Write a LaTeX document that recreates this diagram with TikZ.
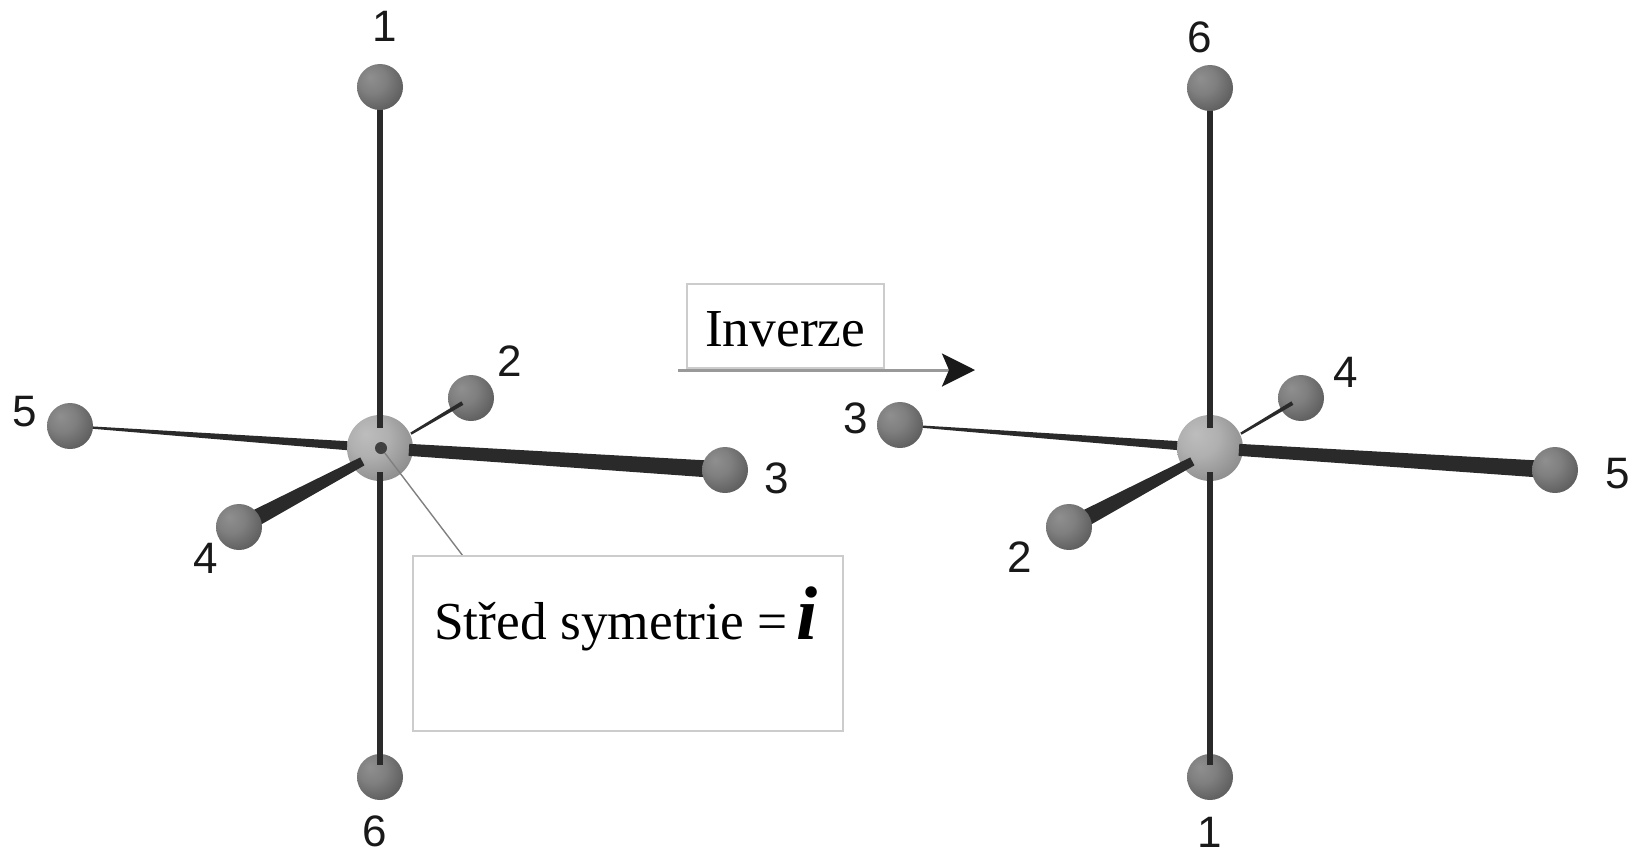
\documentclass[tikz,border=0pt]{standalone}
\usepackage{fontspec}
\setmainfont{Liberation Serif}
\newfontfamily\digitfont{Liberation Sans}
\usetikzlibrary{calc,arrows.meta}
\pgfdeclarelayer{under}
\pgfdeclarelayer{mid}
\pgfsetlayers{under,mid,main}
\pgfdeclareradialshading{atomouter}{\pgfpoint{-11bp}{11bp}}{%
  color(0bp)=(black!44); color(15bp)=(black!50); color(35bp)=(black!65); color(50bp)=(black!75); color(68bp)=(black!85)}
\pgfdeclareradialshading{atomcentre}{\pgfpoint{-11bp}{11bp}}{%
  color(0bp)=(black!26); color(15bp)=(black!31); color(35bp)=(black!46); color(50bp)=(black!56); color(68bp)=(black!66)}
\definecolor{bondcol}{HTML}{2A2A2A}
\tikzset{
  x=1pt,y=-1pt,
  atom/.style={circle,draw=none,minimum size=46pt,inner sep=0pt,shading=atomouter},
  hub/.style={circle,draw=none,minimum size=66pt,inner sep=0pt,shading=atomcentre},
  numlabel/.style={inner sep=0pt,text=black!90,font=\digitfont\fontsize{44}{48}\selectfont},
  caption/.style={anchor=base west,inner sep=0pt,text=black,font=\fontsize{53.4}{60}\selectfont},
  textbox/.style={draw=black!20,line width=1.1pt,fill=white},
  leader/.style={draw=black!50,line width=1.4pt},
  inversion/.style={draw=black!40,line width=3pt,-{Stealth[length=33pt,width=33pt,inset=7pt,color=black!90]}},
  bondfill/.style={fill=bondcol}
}
% from, to, inset at from, inset at to, half width at from, half width at to
\newcommand\taperbond[6]{%
  \path ($(#1)!#3pt!(#2)$) coordinate (sA) ($(#2)!#4pt!(#1)$) coordinate (eA);
  \fill[bondfill] ($(sA)!#5pt!90:(eA)$) -- ($(sA)!#5pt!-90:(eA)$)
     -- ($(eA)!#6pt!90:(sA)$) -- ($(eA)!#6pt!-90:(sA)$) -- cycle;
}
\begin{document}
\begin{tikzpicture}
\useasboundingbox (0,0) rectangle (1639,852);
% left molecule
\begin{pgfonlayer}{under}
  \node[hub] (lc) at (380,448) {};
  \node[atom] (l2) at (471,398) {};
  \node[atom] (l6) at (380,777) {};
\end{pgfonlayer}
\node[atom] (l1) at (380,87) {};
\node[atom] (l3) at (725,470) {};
\node[atom] (l4) at (239,527) {};
\node[atom] (l5) at (70,426) {};
\coordinate (lb) at (380,452);
\node[circle,fill=black!75,minimum size=12pt,inner sep=0pt] (ldot) at (381,448) {};
\begin{pgfonlayer}{mid}
  \taperbond{lc}{l1}{20}{10}{3}{3}
  \taperbond{lc}{l6}{24}{12}{3}{3}
  \taperbond{lc}{l5}{33}{10}{4.5}{1}
  \taperbond{lc}{l3}{29}{10}{6}{8.5}
  \taperbond{lb}{l4}{20}{10}{4.5}{8.5}
  \taperbond{lb}{l2}{36}{10}{1.2}{2}
\end{pgfonlayer}
% right molecule
\begin{pgfonlayer}{under}
  \node[hub] (rc) at (1210,448) {};
  \node[atom] (r4) at (1301,398) {};
  \node[atom] (r1) at (1210,777) {};
\end{pgfonlayer}
\node[atom] (r6) at (1210,88) {};
\node[atom] (r5) at (1555,470) {};
\node[atom] (r2) at (1069,527) {};
\node[atom] (r3) at (900,425) {};
\coordinate (rb) at (1210,452);
\begin{pgfonlayer}{mid}
  \taperbond{rc}{r6}{20}{10}{3}{3}
  \taperbond{rc}{r1}{24}{12}{3}{3}
  \taperbond{rc}{r3}{33}{10}{4.5}{1}
  \taperbond{rc}{r5}{29}{10}{6}{8.5}
  \taperbond{rb}{r2}{20}{10}{4.5}{8.5}
  \taperbond{rb}{r4}{36}{10}{1.2}{2}
\end{pgfonlayer}
% numbers
\node[numlabel] (tl1) at (385,26) {1};
\node[numlabel] (tl2) at (510,361) {2};
\node[numlabel] (tl3) at (777,478) {3};
\node[numlabel] (tl4) at (206,558) {4};
\node[numlabel] (tl5) at (25,412) {5};
\node[numlabel] (tl6) at (375,831) {6};
\node[numlabel] (tr6) at (1200,37) {6};
\node[numlabel] (tr4) at (1346,372) {4};
\node[numlabel] (tr5) at (1618,474) {5};
\node[numlabel] (tr2) at (1020,557) {2};
\node[numlabel] (tr3) at (856,418) {3};
\node[numlabel] (tr1) at (1210,832) {1};
% inversion arrow
\coordinate (arrowa) at (678,370);
\coordinate (arrowb) at (975,370);
\draw[inversion] (arrowa) -- (arrowb);
\draw[textbox] (687,284) rectangle (884,368);
\node[caption] (inv) at (705,346) {Inverze};
% symmetry centre callout
\coordinate (leaderend) at (463,556);
\draw[leader] (ldot) -- (leaderend);
\draw[textbox] (413,556) rectangle (843,731);
\node[caption] (sym) at (434,639) {Střed symetrie =};
\node[anchor=base west,inner sep=0pt,font=\fontsize{76}{80}\selectfont\bfseries\itshape] (symi) at (796,639) {i};
\end{tikzpicture}
\end{document}
